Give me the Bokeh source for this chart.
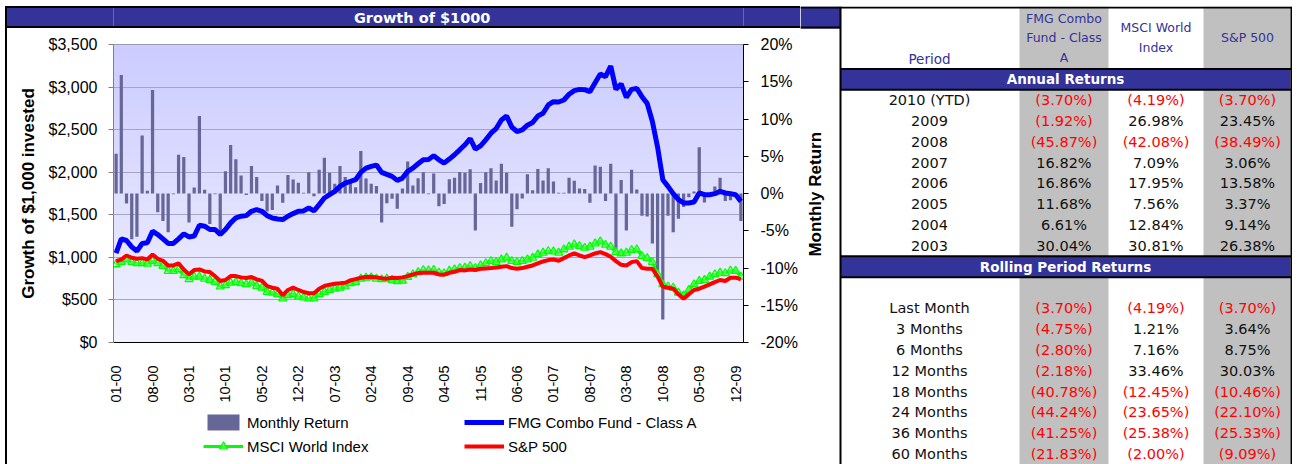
import math
import numpy as np
from bokeh.plotting import figure
from bokeh.models import (Range1d, LinearAxis, FixedTicker, NumeralTickFormatter,
                          PrintfTickFormatter, Legend, LegendItem, InlineStyleSheet)
from bokeh.layouts import row, column
from bokeh.embed import file_html
from bokeh.resources import INLINE
from bokeh.core.properties import value

# ---------------- data ----------------
tick_labels = ["01-00", "08-00", "03-01", "10-01", "05-02", "12-02", "07-03", "02-04",
               "09-04", "04-05", "11-05", "06-06", "01-07", "08-07", "03-08", "10-08",
               "05-09", "12-09"]

monthly_return = [
    5.35, 15.9, -1.34, -6.15, -5.8, 7.8, 0.36, 13.9, -2.5, -3.7,
    -5.2, -0.1, 5.2, 4.9, -3.9, 0.8, 10.4, 0.5, -4.1, -0.1,
    -5.7, 3.0, 6.5, 4.6, 2.4, -0.2, 3.7, 2.2, -1.0, -2.4,
    -2.2, 1.07, -1.25, 2.5, 1.87, 1.43, 0.1, 2.85, -0.36, 3.2,
    4.8, 2.8, 1.3, 3.7, 2.2, 1.7, 0.85, 5.7, 2.0, 1.3,
    1.0, -3.9, -1.3, -0.7, -2.05, 0.67, 4.3, 1.07, 2.05, 2.85,
    -0.1, 2.7, -1.7, -1.4, 1.9, 2.1, 2.9, 2.8, 3.25, -4.95,
    1.4, 2.85, 3.4, 1.74, 4.0, 2.8, -4.45, -2.1, -0.67, 2.6,
    0.45, 3.3, 1.74, 3.4, 1.6, 0.1, 0.1, 2.1, 1.7, 0.67,
    0.6, -1.25, 3.75, 3.6, -1.0, 4.0, -7.5, 1.8, -4.95, 3.2,
    0.54, -3.0, -3.1, -6.7, -10.5, -16.9, -3.0, -5.2, -3.4, -1.8,
    -0.5, 0.27, 6.2, -1.2, -0.2, 0.94, 2.1, -1.0, -0.9, -0.2,
    -3.7]

fmg_growth = [
    1050, 1217, 1198, 1124, 1073, 1163, 1171, 1307, 1268, 1217,
    1163, 1163, 1217, 1276, 1240, 1250, 1377, 1366, 1327, 1327,
    1268, 1327, 1405, 1463, 1483, 1490, 1541, 1561, 1541, 1490,
    1463, 1451, 1444, 1483, 1514, 1541, 1545, 1580, 1545, 1619,
    1697, 1736, 1775, 1834, 1873, 1892, 1912, 1998, 2048, 2068,
    2084, 1998, 1974, 1951, 1904, 1931, 2010, 2048, 2099, 2146,
    2150, 2193, 2146, 2107, 2154, 2205, 2263, 2322, 2396, 2271,
    2310, 2380, 2458, 2513, 2614, 2661, 2529, 2478, 2497, 2552,
    2583, 2661, 2692, 2790, 2829, 2825, 2848, 2915, 2958, 2973,
    2969, 2946, 3051, 3153, 3122, 3246, 2973, 3036, 2880, 2973,
    2985, 2887, 2809, 2595, 2294, 1912, 1834, 1748, 1678, 1639,
    1639, 1650, 1756, 1736, 1736, 1748, 1775, 1756, 1748, 1736,
    1658]

msci_growth = [
    917, 944, 975, 944, 929, 929, 925, 956, 929, 897,
    839, 839, 858, 788, 741, 773, 773, 749, 734, 710,
    656, 671, 702, 710, 695, 683, 702, 663, 644, 593,
    585, 566, 515, 554, 566, 539, 527, 515, 515, 566,
    593, 617, 632, 644, 656, 695, 710, 749, 761, 765,
    749, 741, 749, 734, 718, 726, 770, 800, 825, 850,
    845, 851, 819, 812, 843, 858, 874, 878, 897, 874,
    905, 929, 956, 944, 975, 995, 956, 944, 956, 975,
    995, 1034, 1054, 1073, 1069, 1054, 1093, 1124, 1151, 1132,
    1112, 1124, 1163, 1186, 1147, 1124, 1061, 1046, 1054, 1085,
    1093, 1015, 991, 944, 800, 683, 656, 644, 585, 554,
    617, 683, 722, 734, 773, 800, 819, 812, 843, 839,
    773]

sp500_growth = [
    956, 975, 1022, 995, 983, 991, 975, 1034, 983, 960,
    905, 905, 929, 858, 800, 851, 858, 835, 827, 780,
    722, 734, 780, 780, 765, 757, 770, 741, 726, 663,
    644, 632, 554, 617, 644, 617, 593, 578, 578, 632,
    663, 679, 691, 695, 702, 730, 745, 760, 770, 772,
    765, 755, 750, 760, 757, 765, 780, 800, 815, 819,
    819, 819, 800, 796, 819, 831, 851, 847, 858, 851,
    866, 870, 874, 882, 890, 897, 874, 866, 874, 890,
    905, 929, 952, 968, 975, 960, 991, 1022, 1046, 1022,
    1003, 1022, 1046, 1061, 1038, 1007, 956, 913, 905, 944,
    956, 874, 866, 866, 773, 656, 644, 632, 566, 515,
    566, 617, 632, 656, 683, 710, 734, 722, 761, 761,
    741]

series_names = ["Monthly Return", "FMG Combo Fund - Class A", "MSCI World Index", "S&P 500"]
right_axis_title = "Monthly Return"
column_headers = ["FMG Combo\nFund - Class\nA", "MSCI World\nIndex", "S&P 500"]
periods_annual = ["2010 (YTD)", "2009", "2008", "2007", "2006", "2005", "2004", "2003"]
fmg_annual = [-3.70, -1.92, -45.87, 16.82, 16.86, 11.68, 6.61, 30.04]
msci_annual = [-4.19, 26.98, -42.08, 7.09, 17.95, 7.56, 12.84, 30.81]
sp_annual = [-3.70, 23.45, -38.49, 3.06, 13.58, 3.37, 9.14, 26.38]
periods_rolling = ["Last Month", "3 Months", "6 Months", "12 Months", "18 Months",
                   "24 Months", "36 Months", "60 Months"]
fmg_rolling = [-3.70, -4.75, -2.80, -2.18, -40.78, -44.24, -41.25, -21.83]
msci_rolling = [-4.19, 1.21, 7.16, 33.46, -12.45, -23.65, -25.38, -2.00]
sp_rolling = [-3.70, 3.64, 8.75, 30.03, -10.46, -22.10, -25.33, -9.09]

# ---------------- styles ----------------
NAVY = "#333399"
CF = "Liberation Sans"
TF = "DejaVu Sans"
BAR_C, FMG_C, MSCI_C, SP_C = "#666699", "#0000FF", "#00FF00", "#FF0000"

months = list(range(len(monthly_return)))
tick_pos = months[::7][:len(tick_labels)]


def left_rule():
    return InlineStyleSheet(css=":host::after { content: ''; position: absolute; left: 0; top: 0; "
                                "width: 2px; height: 100%; background: black; z-index: 50; "
                                "pointer-events: none; }")


def box_rule():
    return InlineStyleSheet(css=":host::after { content: ''; position: absolute; left: 0; top: 0; "
                                "width: 100%; height: 100%; box-sizing: border-box; "
                                "border: 2px solid black; border-right: none; z-index: 50; "
                                "pointer-events: none; }")


# ---------------- title bar ----------------
t = figure(width=795, height=22, x_range=Range1d(0, 1), y_range=Range1d(0, 1),
           x_axis_type=None, y_axis_type=None, toolbar_location=None, output_backend="svg",
           min_border=0, background_fill_color=NAVY, border_fill_color=NAVY,
           outline_line_color=None)
t.stylesheets = [box_rule()]
t.grid.visible = False
t.text(x=[0.49], y=[0.5], text=["Growth of $1000"], text_align="center", text_baseline="middle",
       text_color="white", text_font=value(TF), text_font_style="bold", text_font_size="14.5px")

# ---------------- chart ----------------
p = figure(width=795, height=377,
           x_range=Range1d(-0.5, len(months) - 0.5), y_range=Range1d(0, 3500),
           output_backend="svg", toolbar_location=None,
           min_border_left=108, min_border_right=55, min_border_top=16, min_border_bottom=62,
           background_fill_color="white", border_fill_color="white",
           outline_line_color="#8A8A9A", outline_line_width=1)
p.stylesheets = [left_rule()]
p.extra_y_ranges = {"ret": Range1d(-20, 20)}

# gradient plot-area background
N = 300
img = np.empty((N, 1), dtype=np.uint32)
view = img.view(dtype=np.uint8).reshape((N, 1, 4))
frac = np.linspace(0, 1, N)
view[:, 0, 0] = (242 - (242 - 204) * frac).astype(np.uint8)
view[:, 0, 1] = (242 - (242 - 204) * frac).astype(np.uint8)
view[:, 0, 2] = 255
view[:, 0, 3] = 255
p.image_rgba(image=[img], x=p.x_range.start, y=p.y_range.start,
             dw=p.x_range.end - p.x_range.start, dh=p.y_range.end - p.y_range.start,
             level="image")

p.vbar(x=months, top=monthly_return, bottom=0, width=0.62, y_range_name="ret",
       fill_color=BAR_C, line_color=None)
p.line(months, msci_growth, line_color=MSCI_C, line_width=3)
p.scatter(months, msci_growth, marker="triangle", size=8, fill_color="#CCFFCC",
          fill_alpha=0.3, line_color=MSCI_C, line_width=1.3)
p.line(months, sp500_growth, line_color=SP_C, line_width=4)
p.line(months, fmg_growth, line_color=FMG_C, line_width=5)

p.xgrid.visible = False
p.ygrid.grid_line_color = "#A4A4C4"
p.ygrid.ticker = FixedTicker(ticks=list(range(0, 3501, 500)))

ya = p.yaxis[0]
ya.ticker = FixedTicker(ticks=list(range(0, 3501, 500)))
ya.formatter = NumeralTickFormatter(format="$0,0")
ya.axis_line_color = "#808080"
ya.major_tick_line_color = "#808080"
ya.major_tick_out = 5
ya.major_tick_in = 0
ya.minor_tick_line_color = None
ya.major_label_standoff = 11
ya.major_label_text_font = CF
ya.major_label_text_font_size = "16px"
ya.major_label_text_color = "black"
ya.axis_label = "Growth of $1,000 invested"
ya.axis_label_text_font = CF
ya.axis_label_text_font_style = "bold"
ya.axis_label_text_font_size = "17px"
ya.axis_label_standoff = 8
ya.axis_label_text_color = "black"

ra = LinearAxis(y_range_name="ret", ticker=FixedTicker(ticks=list(range(-20, 21, 5))),
                formatter=PrintfTickFormatter(format="%d%%"))
ra.axis_line_color = "black"
ra.major_tick_line_color = "black"
ra.major_tick_out = 5
ra.major_tick_in = 0
ra.minor_tick_line_color = None
ra.major_label_standoff = 12
ra.major_label_text_font = CF
ra.major_label_text_font_size = "16px"
ra.major_label_text_color = "black"
p.add_layout(ra, "right")

xa = p.xaxis[0]
xa.ticker = FixedTicker(ticks=tick_pos)
xa.major_label_overrides = {pos: lab for pos, lab in zip(tick_pos, tick_labels)}
xa.major_label_orientation = math.pi / 2
xa.major_tick_out = 0
xa.major_tick_in = 0
xa.minor_tick_line_color = None
xa.axis_line_color = "black"
xa.major_label_standoff = 23
xa.major_label_text_font = CF
xa.major_label_text_font_size = "14.5px"
xa.major_label_text_color = "black"

# ---------------- legend strip ----------------
# proxies use the same series; the strip's y range keeps them out of view, only the key shows
lf = figure(width=795, height=59, x_range=Range1d(0, 1), y_range=Range1d(100000, 100001),
            x_axis_type=None, y_axis_type=None, toolbar_location=None, output_backend="svg",
            min_border=0, outline_line_color=None, background_fill_color="white",
            border_fill_color="white")
lf.stylesheets = [left_rule()]
lf.grid.visible = False
k_bar = lf.vbar(x=months, top=monthly_return, width=0.62, fill_color=BAR_C, line_color=None)
k_fmg = lf.line(months, fmg_growth, line_color=FMG_C, line_width=5)
k_msci = lf.line(months, msci_growth, line_color=MSCI_C, line_width=3)
k_msci_m = lf.scatter(months, msci_growth, marker="triangle", size=8, fill_color="#CCFFCC",
                      fill_alpha=0.3, line_color=MSCI_C, line_width=1.3)
k_sp = lf.line(months, sp500_growth, line_color=SP_C, line_width=4)
legend = Legend(items=[
    LegendItem(label=series_names[0], renderers=[k_bar]),
    LegendItem(label=series_names[1], renderers=[k_fmg]),
    LegendItem(label=series_names[2], renderers=[k_msci, k_msci_m]),
    LegendItem(label=series_names[3], renderers=[k_sp]),
], location=(90, 8), orientation="horizontal", ncols=2,
    glyph_width=40, glyph_height=20, label_height=20, label_standoff=4, label_width=213,
    spacing=4, padding=0, margin=0, border_line_color=None, background_fill_alpha=0,
    label_text_font=CF, label_text_font_size="15px", label_text_color="black")
lf.add_layout(legend, "center")

# ---------------- table (also carries the right-axis title strip) ----------------
tb = figure(width=492, height=458, x_range=Range1d(-38, 454), y_range=Range1d(22, 0),
            x_axis_type=None, y_axis_type=None, toolbar_location=None, output_backend="svg",
            min_border=0, outline_line_color=None, background_fill_color="white",
            border_fill_color="white")
tb.grid.visible = False

# continuation of the chart's title bar
tb.quad(left=[-38], right=[2], top=[0], bottom=[1.057], fill_color=NAVY, line_color=None)
tb.segment(x0=[-38], x1=[2], y0=[1.01], y1=[1.01], line_color="black", line_width=2)
# right-axis title of the chart
tb.text(x=[-23], y=[9.02], text=[right_axis_title], angle=math.pi / 2, text_align="center",
        text_baseline="middle", text_color="black", text_font=value(CF),
        text_font_style="bold", text_font_size="17px")

col_x = [225.5, 317.5, 409]
tb.quad(left=[181, 365], right=[270, 452], top=[0, 0], bottom=[22, 22],
        fill_color="#C0C0C0", line_color=None)
tb.quad(left=[2, 2], right=[452, 452], top=[3, 12], bottom=[4, 13],
        fill_color=NAVY, line_color=None)
tb.segment(x0=[-38, 2, 2, 2, 2], x1=[453] * 5, y0=[0.05, 3, 4, 12, 13], y1=[0.05, 3, 4, 12, 13],
           line_color="black", line_width=2)
tb.segment(x0=[2, 453], x1=[2, 453], y0=[0, 0], y1=[22, 22], line_color="black", line_width=2)

tb.text(x=col_x, y=[1.5] * 3, text=column_headers, text_align="center", text_baseline="middle",
        text_color=NAVY, text_font=value(TF), text_font_size="12.5px", text_line_height=1.3)
tb.text(x=[91], y=[2.5], text=["Period"], text_align="center", text_baseline="middle",
        text_color=NAVY, text_font=value(TF), text_font_size="13.5px")
tb.text(x=[227, 227], y=[3.5, 12.5], text=["Annual Returns", "Rolling Period Returns"],
        text_align="center", text_baseline="middle", text_color="white",
        text_font=value(TF), text_font_style="bold", text_font_size="13.5px")


def fmt(v):
    return "(%.2f%%)" % abs(v) if v < 0 else "%.2f%%" % v


def add_rows(labels, cols, y0):
    ys = [y0 + k + 0.5 for k in range(len(labels))]
    tb.text(x=[91] * len(labels), y=ys, text=labels, text_align="center", text_baseline="middle",
            text_color="#111111", text_font=value(TF), text_font_size="14.5px")
    for cx, vals in zip(col_x, cols):
        tb.text(x=[cx] * len(vals), y=ys, text=[fmt(v) for v in vals],
                text_color=["#FF0000" if v < 0 else "#111111" for v in vals],
                text_align="center", text_baseline="middle",
                text_font=value(TF), text_font_size="14.5px")


add_rows(periods_annual, [fmg_annual, msci_annual, sp_annual], 4)
add_rows(periods_rolling, [fmg_rolling, msci_rolling, sp_rolling], 14)

layout = row(column(t, p, lf, spacing=0), tb, spacing=0, margin=(6, 0, 0, 5))
open("out.html", "w").write(file_html(layout, INLINE))
